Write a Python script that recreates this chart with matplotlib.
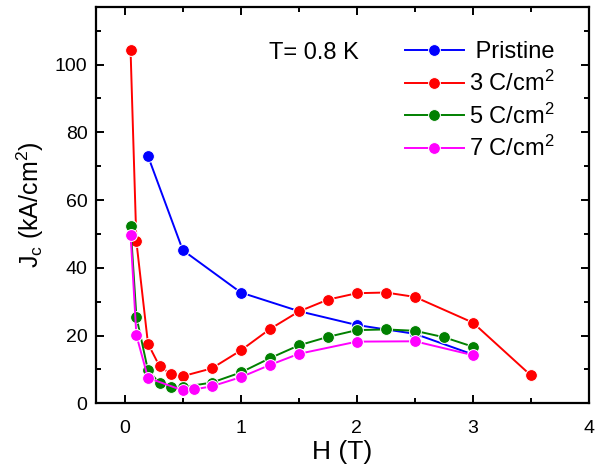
import matplotlib
matplotlib.use("Agg")
import matplotlib.pyplot as plt
from matplotlib.ticker import MultipleLocator

plt.rcParams['font.family'] = ['Liberation Sans', 'DejaVu Sans']
plt.rcParams['mathtext.fontset'] = 'custom'
plt.rcParams['mathtext.rm'] = 'Liberation Sans'
plt.rcParams['mathtext.it'] = 'Liberation Sans'

# Critical current density vs field at T = 0.8 K
h_pristine = [0.2, 0.5, 1.0, 1.5, 2.0, 2.5, 3.0]
jc_pristine = [73.0, 45.2, 32.7, 27.2, 23.1, 20.5, 14.4]

h_3c = [0.05, 0.1, 0.2, 0.3, 0.4, 0.5, 0.75, 1.0, 1.25, 1.5, 1.75, 2.0, 2.25, 2.5, 3.0, 3.5]
jc_3c = [104.2, 47.8, 17.6, 10.9, 8.6, 8.0, 10.3, 15.6, 21.9, 27.1, 30.6, 32.5, 32.7, 31.4, 23.8, 8.2]

h_5c = [0.05, 0.1, 0.2, 0.3, 0.4, 0.5, 0.75, 1.0, 1.25, 1.5, 1.75, 2.0, 2.25, 2.5, 2.75, 3.0]
jc_5c = [52.4, 25.6, 9.7, 6.0, 4.9, 4.8, 6.1, 9.1, 13.3, 17.1, 19.6, 21.6, 21.8, 21.4, 19.5, 16.7]

h_7c = [0.05, 0.1, 0.2, 0.5, 0.6, 0.75, 1.0, 1.25, 1.5, 2.0, 2.5, 3.0]
jc_7c = [49.8, 20.1, 7.5, 3.8, 4.1, 5.0, 7.7, 11.3, 14.6, 18.2, 18.3, 14.2]

series = [
    (h_pristine, jc_pristine, '#0000FF', ' Pristine'),
    (h_3c, jc_3c, '#FF0000', r'3 C/cm$^2$'),
    (h_5c, jc_5c, '#008000', r'5 C/cm$^2$'),
    (h_7c, jc_7c, '#FF00FF', r'7 C/cm$^2$'),
]

fig = plt.figure(figsize=(6.06, 4.70), dpi=100)
ax = fig.add_axes([0.158, 0.142, 0.814, 0.843])

for h, jc, color, label in series:
    ax.plot(h, jc, '-o', color=color, lw=1.4, ms=8.5,
            markeredgecolor='white', markeredgewidth=0.7, label=label)

ax.set_xlim(-0.25, 4.0)
ax.set_ylim(0, 117)
ax.xaxis.set_major_locator(MultipleLocator(1))
ax.xaxis.set_minor_locator(MultipleLocator(0.5))
ax.yaxis.set_major_locator(MultipleLocator(20))
ax.yaxis.set_minor_locator(MultipleLocator(10))

ax.tick_params(which='both', direction='in', top=True, right=True, width=1.4)
ax.tick_params(which='major', length=6, labelsize=14)
ax.tick_params(axis='x', which='major', pad=12)
ax.tick_params(axis='y', which='major', pad=6)
ax.tick_params(which='minor', length=3.5)
for sp in ax.spines.values():
    sp.set_linewidth(1.6)

ax.set_xlabel('H (T)', fontsize=19, labelpad=2)
ax.set_ylabel(r'J$_\mathrm{c}$ (kA/cm$^2$)', fontsize=18, labelpad=6)

ax.text(0.352, 0.885, 'T= 0.8 K', transform=ax.transAxes, fontsize=17,
        ha='left', va='center')

leg = ax.legend(loc='upper right', bbox_to_anchor=(0.958, 0.95), frameon=False,
                fontsize=17, handlelength=2.5, handletextpad=0.2,
                labelspacing=0.32, borderaxespad=0.2)

fig.savefig('out.png', dpi=100)
